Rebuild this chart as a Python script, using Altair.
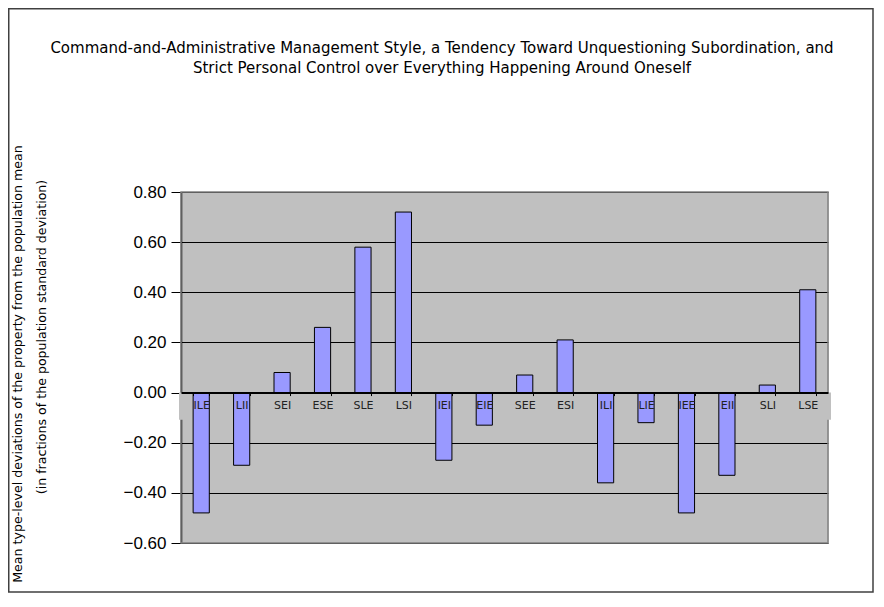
import altair as alt
import pandas as pd

types = ["ILE", "LII", "SEI", "ESE", "SLE", "LSI", "IEI", "EIE",
         "SEE", "ESI", "ILI", "LIE", "IEE", "EII", "SLI", "LSE"]
values = [-0.48, -0.29, 0.08, 0.26, 0.58, 0.72, -0.27, -0.13,
          0.07, 0.21, -0.36, -0.12, -0.48, -0.33, 0.03, 0.41]
y_ticks = [-0.6, -0.4, -0.2, 0.0, 0.2, 0.4, 0.6, 0.8]
title_lines = [
    "Command-and-Administrative Management Style, a Tendency Toward Unquestioning Subordination, and",
    "Strict Personal Control over Everything Happening Around Oneself",
]
y_title_lines = [
    "Mean type-level deviations of the property from the population mean",
    "(in fractions of the population standard deviation)",
]

W, H = 647, 351
YMIN, YMAX = -0.6, 0.8
y0 = H * YMAX / (YMAX - YMIN)

df = pd.DataFrame({"type": types, "value": values})

xscale = alt.Scale(domain=types, paddingInner=0.6, paddingOuter=0.3)
yscale = alt.Scale(domain=[YMIN, YMAX], nice=False, zero=False)

base = alt.Chart(df)

one = alt.Data(values=[{"a": 1}])

# plot border (top/right/bottom gray)
border = alt.Chart(one).mark_rect(fillOpacity=0, stroke="#808080", strokeWidth=1.5).encode(
    x=alt.value(0), x2=alt.value(W), y=alt.value(0), y2=alt.value(H)
)

# gray band behind category labels
band = alt.Chart(one).mark_rect(fill="#C0C0C0", strokeWidth=0).encode(
    x=alt.value(-2), x2=alt.value(W + 3),
    y=alt.datum(0, scale=yscale), y2=alt.datum(-0.108)
)

bars = base.mark_bar(color="#9999FF", stroke="black", strokeWidth=1).encode(
    x=alt.X("type:N", scale=xscale, sort=types,
            axis=alt.Axis(title=None, orient="bottom", offset=-(H - y0),
                          tickBand="extent", tickSize=3, tickColor="black",
                          domainColor="black", domainWidth=2,
                          labelFont="DejaVu Sans", labelFontSize=11,
                          labelColor="#222222", labelPadding=4, labelAngle=0,
                          zindex=2)),
    y=alt.Y("value:Q", scale=yscale,
            axis=alt.Axis(title=None, values=y_ticks, format=".2f",
                          grid=True, gridColor="black", gridWidth=1,
                          domainColor="black", domainWidth=1.5,
                          tickColor="black", tickSize=10, tickWidth=1,
                          labelFont="Liberation Sans", labelFontSize=17,
                          labelColor="black", labelPadding=5, zindex=0)),
)

def text_at(txt, x, y, size, font, angle=0):
    m = alt.Chart(one).mark_text(
        text=txt, font=font, fontSize=size, color="black",
        align="center", baseline="middle", angle=angle,
    )
    return m.encode(x=alt.value(x), y=alt.value(y))

t1 = text_at(title_lines[0], 261, -144, 15, "DejaVu Sans")
t2 = text_at(title_lines[1], 261, -124, 15, "DejaVu Sans")
yt1 = text_at(y_title_lines[0], -163, 172, 12.6, "DejaVu Sans", angle=270)
yt2 = text_at(y_title_lines[1], -139, 145, 12.6, "DejaVu Sans", angle=270)

frame = alt.Chart(one).mark_rect(fillOpacity=0, stroke="#404040", strokeWidth=1.5).encode(
    x=alt.value(-172.25), x2=alt.value(692), y=alt.value(-183.25), y2=alt.value(400)
)

chart = alt.layer(border, band, bars, t1, t2, yt1, yt2, frame).properties(
    width=W, height=H,
    autosize=alt.AutoSizeParams(type="none"),
    padding={"left": 173, "top": 184, "right": 46, "bottom": 50},
    background="white",
).configure_view(fill="#C0C0C0", stroke="transparent")

chart.save("out.html", embed_options={"renderer": "svg", "actions": False})
